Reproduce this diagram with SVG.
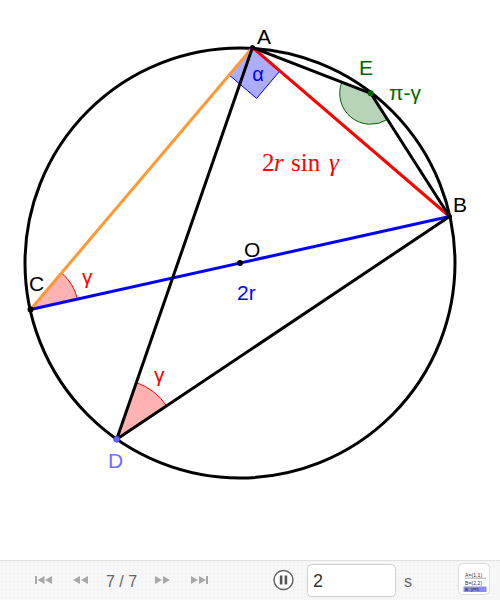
<svg xmlns="http://www.w3.org/2000/svg" width="500" height="600" viewBox="0 0 500 600">
<defs>
<style>
.lbl{font-family:"Liberation Sans",Arial,sans-serif;font-size:21px}
.math{font-family:"Liberation Serif","DejaVu Serif",serif;font-size:25px;fill:#ff0000}
.ln{stroke-width:3;stroke-linecap:round;fill:none}
.nav{fill:#a8a8a8}
</style>
<pattern id="dots" width="4" height="4" patternUnits="userSpaceOnUse">
<rect width="4" height="4" fill="#f7f7f7"/>
<rect x="1" y="1" width="1" height="1" fill="#ececec"/>
</pattern>
</defs>
<rect width="500" height="600" fill="#ffffff"/>

<g id="circle">
<circle cx="240" cy="263" r="215" fill="none" stroke="#000" stroke-width="3"/>
</g>

<g id="angles">
<path d="M30.5,309.5 L61.5,272.9 A48,48 0 0 1 77.4,299.1 Z" fill="#ff0000" fill-opacity="0.3"/>
<path d="M61.5,272.9 A48,48 0 0 1 77.4,299.1" fill="none" stroke="#ff0000" stroke-width="1"/>
<path d="M116.7,439.3 L136.35,382.6 A60,60 0 0 1 166.56,405.9 Z" fill="#ff0000" fill-opacity="0.3"/>
<path d="M136.35,382.6 A60,60 0 0 1 166.56,405.9" fill="none" stroke="#ff0000" stroke-width="1"/>
<path d="M370.7,93.3 L387.4,119.4 A31,31 0 0 1 341.8,82.1 Z" fill="#006400" fill-opacity="0.28"/>
<path d="M387.4,119.4 A31,31 0 0 1 341.8,82.1" fill="none" stroke="#006400" stroke-width="1"/>
<path d="M252.5,47.5 L229.2,75.0 L256.6,98.4 L279.9,70.9 Z" fill="#0000ff" fill-opacity="0.32" stroke="#0000ff" stroke-width="1"/>
</g>

<g id="connectors">
<line class="ln" x1="252.5" y1="47.5" x2="30.5" y2="309.5" stroke="#ff9933"/>
<line class="ln" x1="252.5" y1="47.5" x2="449.5" y2="216.5" stroke="#ff0000"/>
<line class="ln" x1="449.5" y1="216.5" x2="30.5" y2="309.5" stroke="#0000ff"/>
<line class="ln" x1="252.5" y1="47.5" x2="116.7" y2="439.3" stroke="#000"/>
<line class="ln" x1="116.7" y1="439.3" x2="449.5" y2="216.5" stroke="#000"/>
<line class="ln" x1="252.5" y1="47.5" x2="370.7" y2="93.3" stroke="#000"/>
<line class="ln" x1="370.7" y1="93.3" x2="449.5" y2="216.5" stroke="#000"/>
</g>

<g id="labels">
<text class="lbl" x="258" y="76" fill="#0000ff" text-anchor="middle" dominant-baseline="middle" style="font-size:20px">α</text>
<text class="lbl" x="389" y="100" fill="#006400">π-γ</text>
<text class="lbl" x="82" y="284" fill="#ff0000">γ</text>
<text class="lbl" x="154" y="382" fill="#ff0000">γ</text>
<text class="lbl" x="237" y="300" fill="#0000ff">2r</text>
<text class="math" x="262" y="171">2</text>
<text class="math" x="274" y="171" font-style="italic">r</text>
<text class="math" x="291" y="171">sin</text>
<text class="math" x="329" y="171" font-style="italic">γ</text>
</g>

<g id="A"><circle cx="252.5" cy="47.5" r="2.5" fill="#000"/><text class="lbl" x="257" y="44" fill="#000">A</text></g>
<g id="B"><circle cx="449.5" cy="216.5" r="2.5" fill="#000"/><text class="lbl" x="453" y="212" fill="#000">B</text></g>
<g id="C"><circle cx="30.5" cy="309.5" r="3" fill="#000"/><text class="lbl" x="29" y="291" fill="#000">C</text></g>
<g id="O"><circle cx="240" cy="263" r="3" fill="#000"/><text class="lbl" x="244" y="257" fill="#000">O</text></g>
<g id="D"><circle cx="116.7" cy="439.3" r="3" fill="#6666ff" stroke="#4444cc" stroke-width="0.8"/><text class="lbl" x="108" y="468" fill="#7070ff">D</text></g>
<g id="E"><circle cx="370.7" cy="93.3" r="3" fill="#006400"/><text class="lbl" x="359" y="75" fill="#006400">E</text></g>

<g id="toolbar">
<rect x="0" y="560" width="500" height="40" fill="url(#dots)"/>
<line x1="0" y1="560.5" x2="500" y2="560.5" stroke="#e2e2e2" stroke-width="1"/>
<g id="btn-first" class="nav"><rect x="35" y="576" width="2" height="8"/><path d="M44.5,576 L37.5,580 L44.5,584 Z M52,576 L45,580 L52,584 Z"/></g>
<g id="btn-prev" class="nav"><path d="M80,576 L73,580 L80,584 Z M88,576 L81,580 L88,584 Z"/></g>
<text x="106" y="587" font-family="Liberation Sans,Arial,sans-serif" font-size="16" fill="#666">7 / 7</text>
<g id="btn-next" class="nav"><path d="M155,576 L162,580 L155,584 Z M163,576 L170,580 L163,584 Z"/></g>
<g id="btn-last" class="nav"><path d="M191,576 L198,580 L191,584 Z M199,576 L206,580 L199,584 Z"/><rect x="206" y="576" width="2" height="8"/></g>
<g id="btn-pause"><circle cx="283.5" cy="580" r="9.5" fill="#fff" stroke="#666" stroke-width="1.5"/><rect x="279.8" y="575.5" width="2.6" height="9" fill="#555"/><rect x="284.6" y="575.5" width="2.6" height="9" fill="#555"/></g>
<g id="input"><rect x="307.5" y="564.5" width="88" height="32" rx="4" fill="#fff" stroke="#cfcfcf"/><text x="313" y="587" font-family="Liberation Sans,Arial,sans-serif" font-size="18" fill="#333">2</text></g>
<text x="404" y="587" font-family="Liberation Sans,Arial,sans-serif" font-size="16" fill="#666">s</text>
<g id="algebra-icon">
<rect x="458.5" y="563.5" width="31" height="31" rx="4" fill="#fff" stroke="#dcdcdc"/>
<g font-family="Liberation Sans,Arial,sans-serif" font-size="5.2" fill="#333">
<text x="465" y="577">A=(1,1)</text>
<line x1="465" y1="578.2" x2="486" y2="578.2" stroke="#555" stroke-width="0.5"/>
<text x="465" y="584.5">B=(2,2)</text>
<rect x="463.5" y="586.5" width="23" height="5.5" fill="#8a8aff"/>
<text x="465" y="591" fill="#223">a: y=x</text>
</g>
</g>
</g>
</svg>
